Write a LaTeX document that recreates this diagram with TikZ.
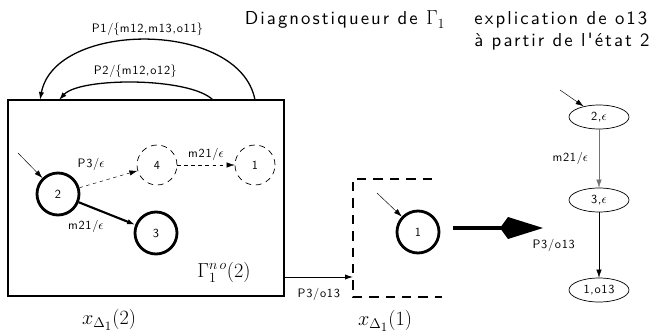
\documentclass[tikz,border=0pt]{standalone}
\usepackage{fontspec}
\usetikzlibrary{positioning,arrows.meta,shapes.geometric}
\newfontfamily\lsans[LetterSpace=6]{lmsans10-regular.otf}
\newfontfamily\lsansg[LetterSpace=11]{lmsans10-regular.otf}
\DeclareMathSizes{16}{16}{13}{11}
\newcommand\petit{\lsans\fontsize{10.5}{12}\selectfont}
\newcommand\grand{\lsansg\fontsize{16}{19}\selectfont}
\tikzset{etat/.style={circle,draw,line width=2.4pt,minimum size=1.26cm,inner sep=0,font=\petit},
         fantome/.style={circle,draw,dash pattern=on 5pt off 4pt,line width=.6pt,minimum size=1.2cm,inner sep=0,font=\petit},
         expl/.style={ellipse,draw,line width=.6pt,minimum width=1.8cm,minimum height=.72cm,inner sep=0,font=\petit},
         lbl/.style={font=\petit,text=black},
         fl/.style={-{Latex[length=2.4mm,width=1.6mm]}},
         maths/.style={font=\fontsize{16}{19}\selectfont}}

\begin{document}
\begin{tikzpicture}[x=.03cm,y=-.03cm]
  \useasboundingbox (0,0) rectangle (659,336);
  % titres
  \node[font=\grand] (titre) at (345,20) {Diagnostiqueur de $\Gamma_1$};
  \node[font=\grand,align=left] (titre2) at (562,31) {explication de o13\\à partir de l'état 2};
  % etat x_Delta1(2)
  \node[draw,line width=1.2pt,minimum width=8.28cm,minimum height=5.88cm,inner sep=0] (gbox) at (146,198) {};
  \node[etat] (e2) at (58,194) {2};
  \node[etat] (e3) at (156,233) {3};
  \node[fantome] (e4) at (157,165) {4};
  \node[fantome] (e1) at (255,165) {1};
  \coordinate (i2) at (18,153);
  \draw[fl,thin] (i2) -- (e2);
  \draw[fl,dashed,thin] (e2) -- node[pos=.2,above=.3cm,lbl]{P3/$\epsilon$} (e4);
  \draw[fl,dashed,thin] (e4) -- node[midway,above,lbl]{m21/$\epsilon$} (e1);
  \draw[fl,line width=1.8pt] (e2) -- node[pos=.55,below left=.05cm,lbl]{m21/$\epsilon$} (e3);
  \node[maths] (gam) at (224,272) {$\Gamma_1^{n\,o}(2)$};
  \node[maths] (xd2) at (109,320) {$x_{\Delta_1}(2)$};
  % boucles
  \coordinate (p1a) at (255,100); \coordinate (p1b) at (40,100);
  \coordinate (p2a) at (213,100); \coordinate (p2b) at (59,100);
  \draw[fl,line width=1.1pt] (p1a) .. controls (240,20) and (55,20) .. node[midway,above,lbl]{P1/$\{$m12,m13,o11$\}$} (p1b);
  \draw[fl,line width=1.1pt] (p2a) .. controls (190,77) and (80,77) .. node[midway,above,lbl]{P2/$\{$m12,o12$\}$} (p2b);
  % etat x_Delta1(1)
  \coordinate (dx) at (353,277);
  \draw[fl,line width=.8pt] (gbox.east |- dx) -- node[midway,below=.2cm,lbl]{P3/o13} (dx);
  \draw[dash pattern=on 8pt off 6pt,line width=.9pt] (432,179) -- (353,179) -- (353,297) -- (442,297);
  \node[etat] (u1) at (418,232) {1};
  \coordinate (iu) at (377,193);
  \draw[fl,thin] (iu) -- (u1);
  \node[maths] (xd1) at (385,321) {$x_{\Delta_1}(1)$};
  % grosse fleche
  \coordinate (btip) at (543,228);
  \draw[line width=3.4pt,-{Kite[length=1.29cm,width=.66cm,inset=.24cm]},shorten <=.39cm] (u1.east |- btip) -- (btip);
  % explication
  \node[expl] (x2) at (599,117) {2,$\epsilon$};
  \node[expl] (x3) at (599,200) {3,$\epsilon$};
  \node[expl] (x1) at (599,290) {1,o13};
  \coordinate (ix) at (560,90);
  \draw[fl,thin] (ix) -- (x2);
  \draw[fl,thin,black!55] (x2) -- node[midway,left=.2cm,lbl]{m21/$\epsilon$} (x3);
  \draw[fl,thin] (x3) -- node[midway,left=.6cm,lbl]{P3/o13} (x1);
\end{tikzpicture}
\end{document}
